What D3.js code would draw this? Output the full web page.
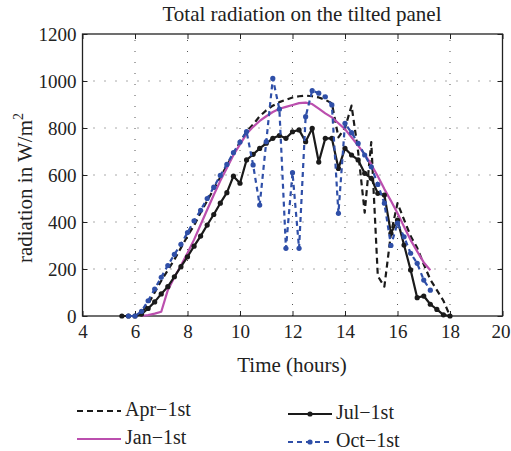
<!DOCTYPE html>
<html>
<head>
<meta charset="utf-8">
<script src="https://cdn.jsdelivr.net/npm/d3@7"></script>
<style>
  body { margin: 0; background: #fff; }
  svg { font-family: "Liberation Serif", "DejaVu Serif", serif; }
</style>
</head>
<body>
<div id="chart"></div>
<script>
// hours of the day, sampled every quarter hour
const julHours = [5.5,5.75,6,6.25,6.5,6.75,7,7.25,7.5,7.75,8,8.25,8.5,8.75,9,9.25,9.5,9.75,10,10.25,10.5,10.75,11,11.25,11.5,11.75,12,12.25,12.5,12.75,13,13.25,13.5,13.75,14,14.25,14.5,14.75,15,15.25,15.5,15.75,16,16.25,16.5,16.75,17,17.25,17.5,17.75,18]
const julValues = [0,0,0,8,32,60,94,125,167,210,252,297,340,387,432,480,525,595,565,664,688,713,735,756,768,756,784,792,742,798,655,756,756,628,713,685,664,607,586,522,515,352,408,302,196,78,85,50,28,5,0]

const aprHours = [6,6.25,6.5,6.75,7,7.25,7.5,7.75,8,8.25,8.5,8.75,9,9.25,9.5,9.75,10,10.25,10.5,10.75,11,11.25,11.5,11.75,12,12.25,12.5,12.75,13,13.25,13.5,13.75,14,14.25,14.5,14.75,15,15.25,15.5,15.75,16,16.25,16.5,16.75,17,17.25,17.5,17.75,18]
const aprValues = [0,15,50,100,150,195,240,290,340,385,440,490,540,590,640,690,740,785,815,850,875,895,910,920,930,935,938,935,930,920,905,760,800,895,700,440,740,170,125,350,480,410,340,290,220,155,110,65,0]

const janHours = [6.25,6.5,6.75,7,7.25,7.5,7.75,8,8.25,8.5,8.75,9,9.25,9.5,9.75,10,10.25,10.5,10.75,11,11.25,11.5,11.75,12,12.25,12.5,12.75,13,13.25,13.5,13.75,14,14.25,14.5,14.75,15,15.25,15.5,15.75,16,16.25,16.5,16.75,17,17.25]
const janValues = [0,4,10,18,110,165,215,268,325,388,452,515,575,630,685,730,775,805,830,850,868,882,890,898,906,908,902,882,862,845,820,795,760,725,688,645,595,540,490,437,380,323,275,228,195]

const octHours = [5.75,6,6.25,6.5,6.75,7,7.25,7.5,7.75,8,8.25,8.5,8.75,9,9.25,9.5,9.75,10,10.25,10.5,10.75,11,11.25,11.5,11.75,12,12.25,12.5,12.75,13,13.25,13.5,13.75,14,14.25,14.5,14.75,15,15.25,15.5,15.75,16,16.25,16.5,16.75,17,17.25]
const octValues = [0,0,20,65,115,165,215,262,305,355,405,450,500,548,598,645,695,740,785,643,472,742,1011,880,288,610,288,848,959,948,933,898,437,820,780,735,685,635,560,480,300,395,337,267,224,153,110]

const xTicks = [4,6,8,10,12,14,16,18,20]
const yTicks = [0,200,400,600,800,1000,1200]

const width = 511, height = 451
const plotLeft = 82.5, plotRight = 502.5, plotTop = 34, plotBottom = 316

const x = d3.scaleLinear().domain([4, 20]).range([plotLeft, plotRight])
const y = d3.scaleLinear().domain([0, 1200]).range([plotBottom, plotTop])

const svg = d3.select("#chart").append("svg")
  .attr("width", width)
  .attr("height", height)

// dotted grid
const grid = svg.append("g")
  .attr("stroke", "#555")
  .attr("stroke-width", 1)
  .attr("stroke-dasharray", "1,10")
grid.selectAll("line.gx")
  .data(xTicks.slice(1, -1))
  .enter().append("line")
    .attr("x1", d => x(d)).attr("x2", d => x(d))
    .attr("y1", plotBottom).attr("y2", plotTop)
grid.selectAll("line.gy")
  .data(yTicks.slice(1, -1))
  .enter().append("line")
    .attr("x1", plotLeft).attr("x2", plotRight)
    .attr("y1", d => y(d)).attr("y2", d => y(d))

// axes, ticks pointing inward like matlab
const tickSize = "19px"
const labelSize = "21px"
svg.append("g")
  .attr("transform", `translate(0,${plotBottom})`)
  .call(d3.axisBottom(x).tickValues(xTicks).tickSize(-5).tickPadding(9).tickFormat(d3.format("d")))
svg.append("g")
  .attr("transform", `translate(${plotLeft},0)`)
  .call(d3.axisLeft(y).tickValues(yTicks).tickSize(-5).tickPadding(6).tickFormat(d3.format("d")))
svg.append("g")
  .attr("transform", `translate(0,${plotTop})`)
  .call(d3.axisTop(x).tickValues(xTicks).tickSize(-5).tickFormat(""))
svg.append("g")
  .attr("transform", `translate(${plotRight},0)`)
  .call(d3.axisRight(y).tickValues(yTicks).tickSize(-5).tickFormat(""))

svg.selectAll(".domain").remove()
svg.selectAll(".tick line").attr("stroke", "#222")
svg.selectAll(".tick text")
  .attr("fill", "#222")
  .style("font-family", "Liberation Serif")
  .style("font-size", tickSize)
// keep the last x label inside the page
svg.selectAll(".tick text").filter(d => d === 20).attr("dx", -2)

svg.append("rect")
  .attr("x", plotLeft).attr("y", plotTop)
  .attr("width", plotRight - plotLeft).attr("height", plotBottom - plotTop)
  .attr("fill", "none")
  .attr("stroke", "#222")
  .attr("stroke-width", 1.3)

// series
const line = d3.line()
  .x(d => x(d[0]))
  .y(d => y(d[1]))

const series = [
  { name: "Apr\u22121st", hours: aprHours, values: aprValues, color: "#1a1a1a", dash: "6,4", dots: false },
  { name: "Jan\u22121st", hours: janHours, values: janValues, color: "#bb4fae", dash: null, dots: false },
  { name: "Jul\u22121st", hours: julHours, values: julValues, color: "#1a1a1a", dash: null, dots: true },
  { name: "Oct\u22121st", hours: octHours, values: octValues, color: "#2f4fa8", dash: "5,4", dots: true }
]

const plot = svg.append("g")

series.forEach(s => {
  const pts = s.hours.map((h, i) => [h, s.values[i]])
  plot.append("path")
    .datum(pts)
    .attr("fill", "none")
    .attr("stroke", s.color)
    .attr("stroke-width", 2.2)
    .attr("stroke-linejoin", "round")
    .attr("stroke-dasharray", s.dash)
    .attr("d", line)
  if (s.dots) {
    plot.append("g").selectAll("circle")
      .data(pts)
      .enter().append("circle")
        .attr("cx", d => x(d[0]))
        .attr("cy", d => y(d[1]))
        .attr("r", 2.6)
        .attr("fill", s.color)
  }
})

// title and labels
svg.append("text")
  .attr("x", 302).attr("y", 21)
  .attr("text-anchor", "middle")
  .attr("fill", "#222")
  .style("font-size", labelSize)
  .text("Total radiation on the tilted panel")

svg.append("text")
  .attr("x", 292).attr("y", 372)
  .attr("text-anchor", "middle")
  .attr("fill", "#222")
  .style("font-size", labelSize)
  .text("Time (hours)")

const yLabel = svg.append("text")
  .attr("transform", "translate(32,188) rotate(-90)")
  .attr("text-anchor", "middle")
  .attr("fill", "#222")
  .style("font-size", labelSize)
yLabel.append("tspan").text("radiation in W/m")
yLabel.append("tspan").attr("dy", -9).style("font-size", "14px").text("2")

// legend, two columns (column-major like matlab)
const legendPos = [
  { x: 77, y: 411 },
  { x: 77, y: 439 },
  { x: 288, y: 414 },
  { x: 288, y: 442 }
]
const legend = svg.append("g")
series.forEach((s, i) => {
  const p = legendPos[i]
  const g = legend.append("g").attr("transform", `translate(${p.x},${p.y})`)
  g.append("line")
    .attr("x1", 0).attr("x2", 44)
    .attr("stroke", s.color)
    .attr("stroke-width", 2.2)
    .attr("stroke-dasharray", s.dash)
  if (s.dots) {
    g.append("circle").attr("cx", 22).attr("r", 2.6).attr("fill", s.color)
  }
  g.append("text")
    .attr("x", 48).attr("y", 5)
    .attr("fill", "#222")
    .style("font-size", "20px")
    .text(s.name)
})
</script>
</body>
</html>
